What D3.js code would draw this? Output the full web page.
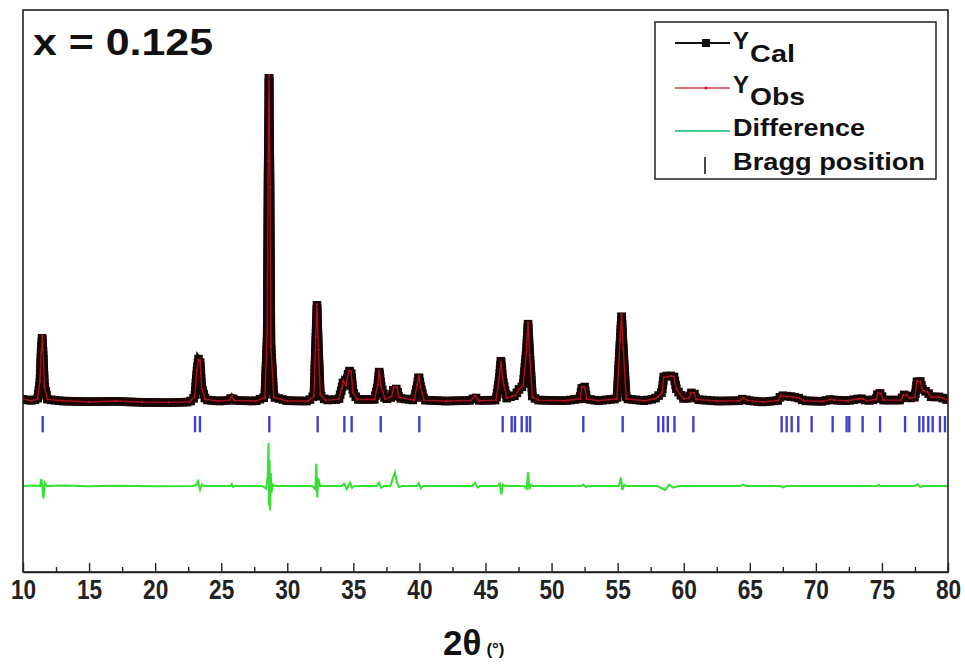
<!DOCTYPE html>
<html><head><meta charset="utf-8">
<script src="https://cdn.jsdelivr.net/npm/d3@7/dist/d3.min.js"></script>
<style>html,body{margin:0;padding:0;background:#fff;} svg{display:block;font-family:Arial,"Liberation Sans",sans-serif;}</style>
</head><body>
<svg id="c" width="965" height="668"></svg>
<script>
// ---- data (2θ in degrees, intensity in relative units) ----
const profTheta = [10.00,10.60,11.10,11.28,11.38,11.45,11.52,11.62,11.85,13.00,15.00,17.00,19.00,21.00,22.60,23.00,23.15,23.28,23.40,23.52,23.80,24.80,25.60,25.80,26.00,27.60,28.30,28.48,28.55,28.62,28.69,28.76,28.98,30.00,31.60,32.02,32.15,32.25,32.35,32.50,32.90,33.90,34.12,34.24,34.45,34.65,34.82,34.98,35.30,36.60,36.84,36.96,37.10,37.40,37.90,38.05,38.30,38.45,39.60,39.83,39.95,40.08,40.35,42.00,43.90,44.20,44.50,45.80,46.04,46.17,46.30,46.60,47.00,47.25,47.55,47.85,48.10,48.22,48.34,48.55,49.00,51.00,52.15,52.30,52.50,52.65,53.50,54.95,55.18,55.30,55.42,55.65,57.00,57.80,58.05,58.35,58.50,58.75,59.05,59.25,59.45,59.70,60.00,60.40,60.52,60.78,60.95,62.50,64.20,64.49,64.80,66.00,67.15,67.36,67.80,68.30,68.70,69.10,70.50,71.10,71.40,72.40,73.25,73.55,73.85,74.55,74.70,74.92,75.10,76.45,76.62,76.88,77.08,77.50,77.66,77.90,78.08,78.45,78.75,79.30,79.60,80.00];
const yCal = [0.8,0.5,0.8,6,16,20,15,5,0.8,0.3,0.1,0.2,-0.1,-0.2,0.0,1.5,9,13.2,12.5,4.5,0.7,0.3,0.5,1.5,0.5,0.3,1.5,20,70,100,68,18,1.5,0.4,0.3,2,18,29.8,17,2,0.6,0.8,4,6.4,5.5,9.5,9.5,3,0.8,0.8,5,9.5,5,0.8,1.5,4,4,1.2,0.6,5,8,5,0.6,0.3,0.5,1.5,0.5,0.6,7,12.9,7,1.2,1.8,2,4,5,16,24,15,1.5,0.6,0.4,1,4.6,4.6,1,0.4,1,18,26.7,17,1,0.4,1,1.8,3,8,8,8,8,4,2.5,1,1.2,2.8,2.8,0.8,0.3,0.4,1,0.5,0,0.5,2,1.8,1.6,1.2,0.4,0.2,0.8,0.6,0.4,1,1,0.4,0.8,2.8,2.6,0.6,0.6,2.2,2.2,1.2,1.5,6.4,6.4,3.7,3.0,1.5,1.6,1.2,0.6];
const yObs = [0.9,0.4,0.9,6.5,15,20.3,16,4.6,0.8,0.4,0.0,0.3,0.0,-0.1,0.1,1.7,9.5,13.0,12.8,4.2,0.8,0.3,0.6,1.8,0.5,0.3,1.3,22,74,100.5,66,17,1.4,0.3,0.3,1.8,20,30,16,2.2,0.6,0.8,4.2,6.5,5.2,9.6,9.4,3,0.8,0.8,5.2,9.6,4.8,0.9,1.8,4.5,4.6,1.5,0.6,5.3,8.1,4.7,0.6,0.3,0.5,2.0,0.4,0.6,7.5,12.2,7,1.2,1.8,2,4,5,15.5,24.5,14.5,1.5,0.6,0.4,1,4.7,4.6,1,0.4,1,19,27,16.5,1,0.4,1,1.6,2.8,7.6,7.8,8,7.8,4,2.5,1,1.2,2.8,2.8,0.8,0.3,0.4,1.2,0.5,0,0.5,2,1.7,1.6,1.3,0.4,0.2,0.8,0.6,0.4,1,1,0.4,0.8,2.9,2.6,0.6,0.6,2.2,2.2,1.2,1.5,6.5,6.2,3.7,3.0,1.5,1.6,1.2,0.6];
const diffTheta = [10,10.8,11.3,11.4,11.48,11.55,11.65,11.8,13,15,17,20,22.8,23.1,23.25,23.4,23.55,23.7,25.7,25.8,25.9,26,28.1,28.4,28.52,28.58,28.62,28.66,28.7,28.75,28.82,28.9,29.1,31.9,32.12,32.2,32.27,32.34,32.48,34.1,34.3,34.5,34.75,34.9,35.1,36.75,36.95,37.1,37.3,37.8,38.0,38.15,38.3,38.45,38.7,39.8,39.95,40.1,40.3,44,44.2,44.4,44.6,45.9,46.08,46.2,46.32,46.5,47.9,48.12,48.22,48.32,48.45,48.6,52.2,52.4,52.6,52.8,55.1,55.25,55.35,55.5,55.7,58,58.3,58.6,58.9,59.2,59.6,64.3,64.5,64.7,67.3,67.5,67.8,74.6,74.75,74.9,77.5,77.7,77.9,78.1,80];
const diffVal = [0,0.2,0,2.2,-1,-3.8,1,0,0.2,-0.1,0.1,-0.1,0,0.3,1.5,-1.2,0.5,0,0,0.6,-0.3,0,0,-0.8,3,13.2,-6,8,-7.5,4,-2,0.5,0,0,-1,6.8,-3.5,2.5,0,0,0.8,-1,1,-0.6,0,0,1,-0.5,0,0,2.5,4.2,1,-0.3,0,0,0.9,-0.7,0,0,1,-0.4,0,0,0.8,-2.6,0.5,0,0,-0.8,4.3,-1,0.4,0,0,0.5,-0.3,0,0,2.6,-1.2,0.3,0,0,-0.6,-1.2,0.4,-0.5,0,0,0.5,0,0,-0.4,0,0,0.4,0,0,0.6,-0.3,0,0];
const braggPos = [11.49,23.02,23.39,28.64,32.30,34.32,34.87,37.07,39.99,46.30,46.98,47.23,47.74,48.12,48.37,52.40,55.38,58.08,58.45,58.80,59.30,60.73,67.41,67.79,68.17,68.67,69.68,71.27,72.33,72.53,73.54,74.86,76.75,77.83,78.13,78.51,78.84,79.39,79.77];
const xMajorTicks = [10,15,20,25,30,35,40,45,50,55,60,65,70,75,80];
const xMinorTicks = [12.5,17.5,22.5,27.5,32.5,37.5,42.5,47.5,52.5,57.5,62.5,67.5,72.5,77.5];
const legendNames = ["Cal","Obs","Difference","Bragg position"];
const panelLabel = "x = 0.125";

// ---- layout ----
const plot = {left:23, top:10, right:948, bottom:572};
const diffOffset = -25.8, braggTop = -4.3, braggBot = -9.3;
const svg = d3.select("#c");
const x = d3.scaleLinear().domain([10,80]).range([plot.left, plot.right]);
const y = d3.scaleLinear().domain([-52.2,120.4]).range([plot.bottom, plot.top]);

svg.append("clipPath").attr("id","clip").append("rect")
  .attr("x",plot.left).attr("y",plot.top).attr("width",plot.right-plot.left).attr("height",plot.bottom-plot.top);
const g = svg.append("g").attr("clip-path","url(#clip)");

const calData = profTheta.map((t,i)=>[t,yCal[i]]);
const obsData = profTheta.map((t,i)=>[t,yObs[i]]);
const diffData = diffTheta.map((t,i)=>[t,diffVal[i]+diffOffset]);
const line = d3.line().x(d=>x(d[0])).y(d=>y(d[1]));

// Ycal: black line + square markers along the curve
const calPath = g.append("path").attr("d",line(calData)).attr("fill","none").attr("stroke","#1a0606").attr("stroke-width",6);
const node = calPath.node(), L = node.getTotalLength();
const pts = [];
for (let s=0; s<=L; s+=4) pts.push(node.getPointAtLength(s));
g.append("g").selectAll("rect").data(pts).join("rect")
  .attr("x",p=>p.x-4.3).attr("y",p=>p.y-4.3).attr("width",8.6).attr("height",8.6).attr("fill","#1a0505");

// Yobs: red line with small dots
g.append("path").attr("d",line(obsData)).attr("fill","none").attr("stroke","#a8101a").attr("stroke-width",1.4);
g.append("g").selectAll("circle").data(obsData).join("circle")
  .attr("cx",d=>x(d[0])).attr("cy",d=>y(d[1])).attr("r",1.1).attr("fill","#b0141e");

// Bragg positions
g.append("g").selectAll("line").data(braggPos).join("line")
  .attr("x1",d=>x(d)).attr("x2",d=>x(d)).attr("y1",y(braggTop)).attr("y2",y(braggBot))
  .attr("stroke","#3f3fc8").attr("stroke-width",2.4);

// Difference
g.append("path").attr("d",line(diffData)).attr("fill","none").attr("stroke","#33e033").attr("stroke-width",2);

// frame
svg.append("rect").attr("x",plot.left).attr("y",plot.top).attr("width",plot.right-plot.left).attr("height",plot.bottom-plot.top)
  .attr("fill","none").attr("stroke","#222").attr("stroke-width",1.6);

// x axis
const ax = svg.append("g").attr("transform",`translate(0,${plot.bottom})`)
  .call(d3.axisBottom(x).tickValues(xMajorTicks).tickSize(-9).tickSizeOuter(0).tickPadding(8).tickFormat(d3.format("d")));
ax.select(".domain").attr("stroke","#222").attr("stroke-width",1.6);
ax.selectAll(".tick line").attr("stroke","#222").attr("stroke-width",1.4);
ax.selectAll(".tick text").attr("font-size",27).attr("font-weight","bold").attr("fill","#222")
  .attr("font-family","Arial,'Liberation Sans',sans-serif").attr("transform","scale(0.84,1)");
const axm = svg.append("g").attr("transform",`translate(0,${plot.bottom})`)
  .call(d3.axisBottom(x).tickValues(xMinorTicks).tickSize(-5).tickSizeOuter(0).tickFormat(""));
axm.select(".domain").remove();
axm.selectAll(".tick line").attr("stroke","#222").attr("stroke-width",1.4);

// axis title
const xt = svg.append("text").attr("x",443).attr("y",655).attr("font-weight","bold").attr("fill","#111");
xt.append("tspan").attr("font-size",35).text("2θ");
xt.append("tspan").attr("font-size",17).attr("dx",5).text("(°)");

// panel label
svg.append("text").attr("x",33).attr("y",55).attr("font-size",37).attr("font-weight","bold").attr("fill","#111")
  .attr("textLength",180).attr("lengthAdjust","spacingAndGlyphs").text(panelLabel);

// legend
const lg = svg.append("g");
lg.append("rect").attr("x",655).attr("y",22).attr("width",281).attr("height",157).attr("fill","#fff").attr("stroke","#222").attr("stroke-width",1.5);
const lx1 = 675, lx2 = 730, lm = 706;
lg.append("line").attr("x1",lx1).attr("x2",lx2).attr("y1",43).attr("y2",43).attr("stroke","#111").attr("stroke-width",2);
lg.append("rect").attr("x",lm-4).attr("y",39).attr("width",8).attr("height",8).attr("fill","#111");
lg.append("line").attr("x1",lx1).attr("x2",lx2).attr("y1",88).attr("y2",88).attr("stroke","#d04050").attr("stroke-width",1.5);
lg.append("circle").attr("cx",lm).attr("cy",88).attr("r",1.6).attr("fill","#c8141e");
lg.append("line").attr("x1",lx1).attr("x2",lx2).attr("y1",131).attr("y2",131).attr("stroke","#3fcf8f").attr("stroke-width",2);
lg.append("line").attr("x1",705).attr("x2",705).attr("y1",157).attr("y2",174).attr("stroke","#333").attr("stroke-width",1.8);
const tstyle = s => s.attr("font-weight","bold").attr("fill","#111").attr("lengthAdjust","spacingAndGlyphs");
tstyle(lg.append("text").attr("x",733).attr("y",49).attr("font-size",24).text("Y"));
tstyle(lg.append("text").attr("x",750).attr("y",62).attr("font-size",23).attr("textLength",45).text(legendNames[0]));
tstyle(lg.append("text").attr("x",733).attr("y",93).attr("font-size",24).text("Y"));
tstyle(lg.append("text").attr("x",750).attr("y",105).attr("font-size",23).attr("textLength",55).text(legendNames[1]));
tstyle(lg.append("text").attr("x",733).attr("y",136).attr("font-size",24).attr("textLength",132).text(legendNames[2]));
tstyle(lg.append("text").attr("x",733).attr("y",170).attr("font-size",24).attr("textLength",192).text(legendNames[3]));
</script>
</body></html>
